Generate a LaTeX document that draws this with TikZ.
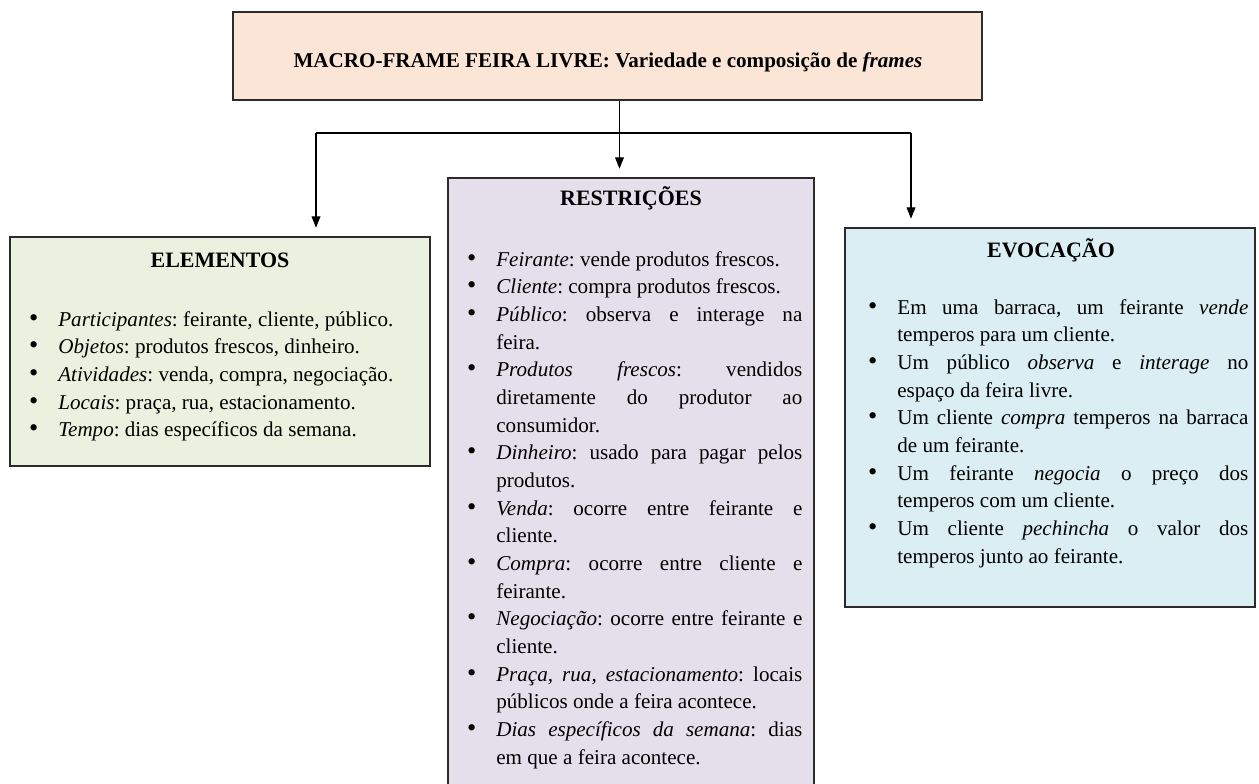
\documentclass[tikz,border=0pt]{standalone}
\usepackage{fontspec}
\setmainfont{Liberation Serif}[WordSpace={1,1,0}]
\usepackage{enumitem}
\usetikzlibrary{arrows.meta, positioning}
\definecolor{macrofill}{HTML}{FBE5D6}
\definecolor{elemfill}{HTML}{EAF1DE}
\definecolor{restrfill}{HTML}{E5DFEC}
\definecolor{evocfill}{HTML}{DBEEF4}
\definecolor{boxline}{HTML}{2B2B2B}
\newcommand{\bodyfont}{\fontsize{12pt}{15.75pt}\selectfont\frenchspacing}
\newcommand{\headfont}{\fontsize{12.5pt}{15pt}\selectfont\bfseries}
\newlist{itens}{itemize}{1}
\setlist[itens]{label={\fontsize{15pt}{15pt}\selectfont\textbullet}, nosep, leftmargin=0.6cm, labelsep=0.40cm, labelindent=0pt, labelwidth=0.2cm}
\hyphenpenalty=10000
\exhyphenpenalty=10000
\tolerance=9999
\emergencystretch=2em

\begin{document}
\begin{tikzpicture}[
    boxframe/.style={rectangle, draw=boxline, line width=0.9pt, inner sep=0pt},
    boxhead/.style={anchor=base, font=\headfont},
    boxlist/.style={anchor=north west, inner sep=0pt, text width=#1, align=justify, font=\bodyfont},
    link/.style={line width=0.75pt, color=black},
    arrow/.style={-{Triangle[length=6.5pt, width=5pt]}, line width=0.75pt, color=black, shorten >=0.17cm}
]
\useasboundingbox (0,0) rectangle (25.18,-15.66);

% Boxes
\node[boxframe, fill=macrofill, minimum width=14.98cm, minimum height=1.76cm] (macro) at (12.15,-1.12) {};
\node[boxframe, fill=elemfill, minimum width=8.40cm, minimum height=4.58cm] (elem) at (4.40,-7.03) {};
\node[boxframe, fill=restrfill, minimum width=7.32cm, minimum height=12.24cm] (restr) at (12.62,-9.68) {};
\node[boxframe, fill=evocfill, minimum width=8.20cm, minimum height=7.58cm] (evoc) at (21.00,-8.35) {};

% Titles
\node[anchor=base, font=\fontsize{12pt}{14pt}\selectfont\bfseries] (macrohead) at (12.16,-1.34) {MACRO-FRAME FEIRA LIVRE: Variedade e composição de \textit{frames}};
\node[boxhead] (elemhead) at (4.40,-5.34) {ELEMENTOS};
\node[boxhead] (restrhead) at (12.62,-4.10) {RESTRIÇÕES};
\node[boxhead] (evochead) at (21.02,-5.14) {EVOCAÇÃO};

% Lists
\node[boxlist=9cm] (elemlist) at (0.56,-5.96) {%
\begin{itens}
\item \textit{Participantes}: feirante, cliente, público.
\item \textit{Objetos}: produtos frescos, dinheiro.
\item \textit{Atividades}: venda, compra, negociação.
\item \textit{Locais}: praça, rua, estacionamento.
\item \textit{Tempo}: dias específicos da semana.
\end{itens}};
\node[boxlist=6.72cm] (restrlist) at (9.32,-4.76) {%
\begin{itens}
\item \textit{Feirante}: vende produtos frescos.
\item \textit{Cliente}: compra produtos frescos.
\item \textit{Público}: observa e interage na \linebreak feira.
\item \textit{Produtos frescos}: vendidos diretamente do produtor ao consumidor.
\item \textit{Dinheiro}: usado para pagar pelos produtos.
\item \textit{Venda}: ocorre entre feirante e cliente.
\item \textit{Compra}: ocorre entre cliente e feirante.
\item \textit{Negociação}: ocorre entre feirante e cliente.
\item \textit{Praça, rua, estacionamento}: locais públicos onde a feira acontece.
\item \textit{Dias específicos da semana}: dias em que a feira acontece.
\end{itens}};
\node[boxlist=7.62cm] (evoclist) at (17.34,-5.72) {%
\begin{itens}
\item Em uma barraca, um feirante \textit{vende} temperos para um cliente.
\item Um público \textit{observa} e \textit{interage} no \linebreak espaço da feira livre.
\item Um cliente \textit{compra} temperos na barraca de um feirante.
\item Um feirante \textit{negocia} o preço dos temperos com um cliente.
\item Um cliente \textit{pechincha} o valor dos temperos junto ao feirante.
\end{itens}};

% Arrows
\coordinate (hub) at (12.39,-2.66);
\coordinate (elemdrop) at (6.32,-2.66);
\coordinate (evocdrop) at (18.22,-2.66);
\draw[link] (elemdrop) -- (evocdrop);
\draw[arrow] (macro.south -| hub) -- (restr.north -| hub);
\draw[arrow] (elemdrop) -- (elem.north -| elemdrop);
\draw[arrow] (evocdrop) -- (evoc.north -| evocdrop);

\end{tikzpicture}
\end{document}
